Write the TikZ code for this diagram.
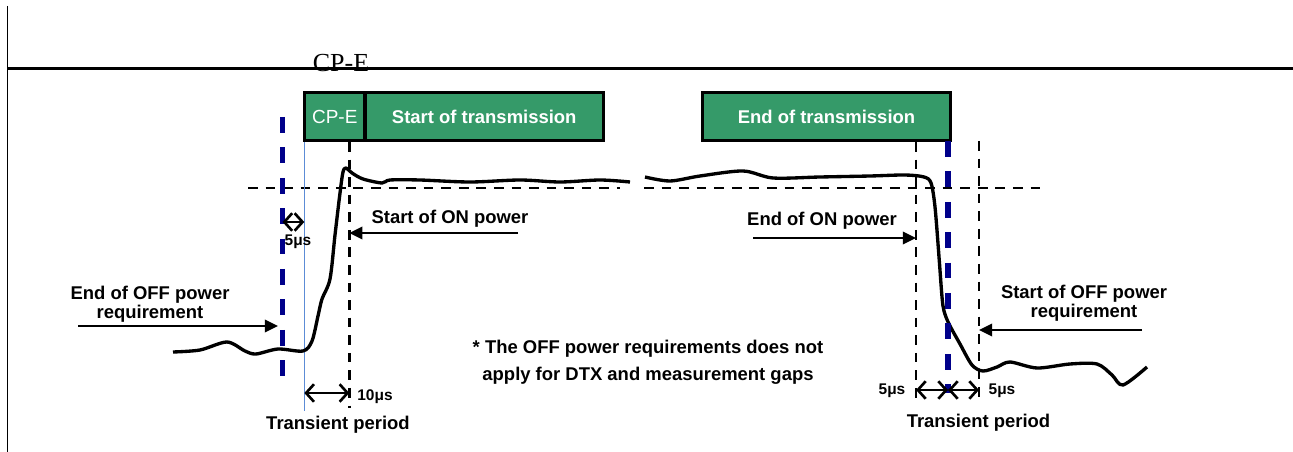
\documentclass[tikz,border=0pt]{standalone}
\usepackage{fontspec}
\setmainfont{Liberation Serif}
\setsansfont{Liberation Sans}
\usetikzlibrary{arrows.meta,positioning}

\definecolor{boxgreen}{RGB}{53,154,105}
\definecolor{markblue}{RGB}{0,0,138}
\definecolor{thinblue}{RGB}{92,140,214}

\tikzset{
  lbl/.style={font=\sffamily\bfseries\fontsize{10.5}{11}\selectfont, inner sep=0pt},
  tiny/.style={font=\sffamily\bfseries\fontsize{8.8}{9}\selectfont, inner sep=0pt},
  trbox/.style={draw, line width=1.9pt, fill=boxgreen, text=white, outer sep=0pt,
    minimum height=0.96cm, inner sep=0pt, font=\sffamily\bfseries\fontsize{10.5}{11}\selectfont},
  guide/.style={line width=1.4pt, dash pattern=on 5.5pt off 4.5pt},
  bluemark/.style={markblue, line width=2.9pt, dash pattern=on 9pt off 8.3pt},
  signal/.style={line width=1.9pt, line join=round},
  pointer/.style={-{Triangle[length=7.5pt,width=7pt]}, line width=1.4pt},
  span/.style={{Straight Barb[length=4.5pt,width=10pt]}-{Straight Barb[length=4.5pt,width=10pt]}, line width=1.5pt}
}

\begin{document}
\begin{tikzpicture}[x=0.02cm,y=-0.02cm]
\useasboundingbox (0,0) rectangle (1293,452);

% Frame
\draw[line width=0.9pt] (7.5,6) -- (7.5,452);
\draw[line width=1.8pt] (7,68.5) -- (1293,68.5);
\node[font=\fontsize{14.8}{15}\selectfont, anchor=base, inner sep=0pt] (cpehead) at (341,72) {CP-E};

% Transmission boxes
\node[trbox, minimum width=1.21cm, font=\sffamily\fontsize{10.8}{11}\selectfont] (cpe) at (334.75,116.5) {CP-E};
\node[trbox, minimum width=4.77cm, right=0pt of cpe] (start) {Start of transmission};
\node[trbox, minimum width=4.96cm] (finish) at (826.5,116.5) {End of transmission};

% Guide lines
\coordinate (blueA) at (282.5,117);
\coordinate (blueB) at (948,141);
\coordinate (thinA) at (304.3,142);
\coordinate (onA) at (349.3,142);
\coordinate (onB) at (916,142);
\coordinate (offB) at (979,141);
\draw[guide] (248,188) -- (620,188);
\draw[guide] (644,188) -- (1048,188);
\draw[thinblue, line width=0.8pt] (thinA) -- ++(0,269);
\draw[guide] (onA) -- ++(0,266);
\draw[guide] (onB) -- ++(0,262);
\draw[guide] (offB) -- ++(0,263);

% Power curve
\draw[signal] plot[smooth, tension=0.5] coordinates {(173,352) (200,350) (227,342) (245,351)
  (256,354) (278,349) (303,351) (312,341) (318,316) (322,299) (330,279) (335,235) (340,193)
  (343,172) (346,168) (352,173) (363,179) (382,183) (390,180) (420,180) (470,182) (520,180)
  (560,182) (600,180) (630,182)};
\draw[signal] plot[smooth, tension=0.5] coordinates {(645,177) (670,181) (700,176) (743,171)
  (773,178) (820,177) (870,176) (905,175) (924,177) (931,183) (935,207) (939,257) (942,297)
  (944,311) (949,324) (960,344) (972,365) (983,371) (997,367) (1010,362) (1037,368) (1070,364)
  (1097,364) (1112,375) (1123,385) (1147,367)};

\draw[bluemark] (blueA) -- ++(0,264);
\draw[bluemark] (blueB) -- ++(0,252);

% Labels and pointers
\node[lbl, anchor=base] (onstart) at (450,224) {Start of ON power};
\node[lbl, anchor=base] (onend) at (822,226) {End of ON power};
\node[lbl, align=center, font=\sffamily\bfseries\fontsize{10.5}{10.8}\selectfont] (offend) at (150,304) {End of OFF power\\requirement};
\node[lbl, align=center, font=\sffamily\bfseries\fontsize{10.5}{8.6}\selectfont] (offstart) at (1084,303) {Start of OFF power\\requirement};
\node[lbl, align=center, font=\sffamily\bfseries\fontsize{10.5}{15.3}\selectfont] (note) at (648,362) {* The OFF power requirements does not\\apply for DTX and measurement gaps};
\node[lbl, anchor=base] (transA) at (338,429) {Transient period};
\node[lbl, anchor=base] (transB) at (978.5,427) {Transient period};

\coordinate (tailA) at (518,233);
\coordinate (tailB) at (753,238);
\coordinate (tailC) at (78,326);
\coordinate (tailD) at (1142,330);
\draw[pointer] (tailA) -- (tailA -| onA);
\draw[pointer] (tailB) -- (tailB -| onB);
\draw[pointer] (tailC) -- ([xshift=-2.5pt]tailC -| blueA);
\draw[pointer] (tailD) -- (tailD -| offB);

% Transient spans
\coordinate (lvA) at (0,222);
\coordinate (lvB) at (0,393);
\coordinate (lvC) at (0,390);
\draw[span] (lvA -| blueA) -- (lvA -| thinA);
\draw[span] (lvB -| thinA) -- (lvB -| onA);
\draw[span] (lvC -| onB) -- (lvC -| blueB);
\draw[span] (lvC -| blueB) -- (lvC -| offB);
\node[tiny, anchor=base] (fiveA) at (298,246) {5μs};
\node[tiny, anchor=base] (ten) at (375,400) {10μs};
\node[tiny, anchor=base] (fiveB) at (892,394) {5μs};
\node[tiny, anchor=base] (fiveC) at (1002,394) {5μs};
\end{tikzpicture}
\end{document}
